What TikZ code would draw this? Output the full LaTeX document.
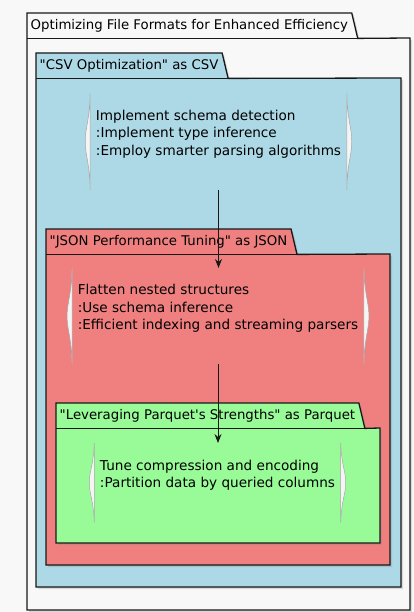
\documentclass[tikz,border=0pt]{standalone}
\usepackage{fontspec}
\setmainfont{DejaVu Sans}[Ligatures=TeXOff]
\usepackage{xcolor}
\usepackage{tikz}
\usetikzlibrary{arrows.meta, backgrounds, shadows}
\definecolor{pagegray}{HTML}{F8F8F8}
\definecolor{csvblue}{HTML}{ADD8E6}
\definecolor{jsonred}{HTML}{F08080}
\definecolor{parquetgreen}{HTML}{98FB98}
\definecolor{edgeblack}{HTML}{181818}
\tikzstyle{pkgtab} = [anchor=north west, inner xsep=3.5pt, inner ysep=0pt, minimum height=25pt, text height=10pt, text depth=3pt, font=\fontsize{13.3}{16}\selectfont]
\tikzstyle{pkgframe} = [draw=edgeblack, line width=1.3pt, drop shadow={shadow xshift=2pt, shadow yshift=-2pt, opacity=0.25}]
\tikzstyle{tabline} = [draw=edgeblack, line width=1.3pt]
\tikzstyle{taskbox} = [anchor=north, align=left, inner xsep=5.5pt, inner ysep=0pt, text depth=34.5pt]
\tikzstyle{bracket} = [draw=gray!70, line width=0.5pt, fill=white!92!gray]
\tikzstyle{arrow} = [draw=edgeblack, line width=0.8pt, -{Stealth[length=9pt, width=7pt, inset=3pt]}]

\begin{document}
\begin{tikzpicture}[x=1pt, y=-1pt, font=\fontsize{13.6}{17.5}\selectfont]
  \useasboundingbox (0,0) rectangle (414,612);

  % package titles
  \node (mainTab) [pkgtab] at (27,13) {Optimizing File Formats for Enhanced Efficiency};
  \node (csvTab) [pkgtab] at (36,53) {"CSV Optimization" as CSV};
  \node (jsonTab) [pkgtab] at (46,229) {"JSON Performance Tuning" as JSON};
  \node (parquetTab) [pkgtab] at (56,403) {"Leveraging Parquet's Strengths" as Parquet};

  % steps inside each package (last line sits on the baseline)
  \node (csvTasks) [taskbox, text height=62pt] at (218.5,93) {Implement schema detection\\:Implement type inference\\:Employ smarter parsing algorithms};
  \node (jsonTasks) [taskbox, text height=61.5pt] at (218,268) {Flatten nested structures\\:Use schema inference\\:Efficient indexing and streaming parsers};
  \node (parquetTasks) [taskbox, text height=44.5pt] at (217.5,443) {Tune compression and encoding\\:Partition data by queried columns};

  % frames go underneath the text
  \begin{scope}[on background layer]
    \fill[pagegray] (0,0) rectangle (414,612);
    \draw[pkgframe, fill=pagegray] (mainTab.north west) -- (mainTab.north east) -- ([xshift=6pt]mainTab.south east) -- (410,38) -- (410,610) -- (27,610) -- cycle;
    \draw[tabline] (mainTab.south west) -- ([xshift=6pt]mainTab.south east);
    \draw[pkgframe, fill=csvblue] (csvTab.north west) -- (csvTab.north east) -- ([xshift=6pt]csvTab.south east) -- (401,78) -- (401,587) -- (36,587) -- cycle;
    \draw[tabline] (csvTab.south west) -- ([xshift=6pt]csvTab.south east);
    \draw[pkgframe, fill=jsonred] (jsonTab.north west) -- (jsonTab.north east) -- ([xshift=6pt]jsonTab.south east) -- (390,254) -- (390,565) -- (46,565) -- cycle;
    \draw[tabline] (jsonTab.south west) -- ([xshift=6pt]jsonTab.south east);
    \draw[pkgframe, fill=parquetgreen] (parquetTab.north west) -- (parquetTab.north east) -- ([xshift=6pt]parquetTab.south east) -- (380,428) -- (380,543) -- (56,543) -- cycle;
    \draw[tabline] (parquetTab.south west) -- ([xshift=6pt]parquetTab.south east);
  \end{scope}

  % curved brackets on both sides of the steps
  \draw[bracket] (csvTasks.north west) .. controls +(-1,30) and +(0,-14) .. ([xshift=-5pt]csvTasks.west) .. controls +(0,14) and +(-1,-30) .. (csvTasks.south west) -- cycle;
  \draw[bracket] (csvTasks.north east) .. controls +(1,30) and +(0,-14) .. ([xshift=5pt]csvTasks.east) .. controls +(0,14) and +(1,-30) .. (csvTasks.south east) -- cycle;
  \draw[bracket] (jsonTasks.north west) .. controls +(-1,30) and +(0,-14) .. ([xshift=-5pt]jsonTasks.west) .. controls +(0,14) and +(-1,-30) .. (jsonTasks.south west) -- cycle;
  \draw[bracket] (jsonTasks.north east) .. controls +(1,30) and +(0,-14) .. ([xshift=5pt]jsonTasks.east) .. controls +(0,14) and +(1,-30) .. (jsonTasks.south east) -- cycle;
  \draw[bracket] (parquetTasks.north west) .. controls +(-1,24) and +(0,-12) .. ([xshift=-5pt]parquetTasks.west) .. controls +(0,12) and +(-1,-24) .. (parquetTasks.south west) -- cycle;
  \draw[bracket] (parquetTasks.north east) .. controls +(1,24) and +(0,-12) .. ([xshift=5pt]parquetTasks.east) .. controls +(0,12) and +(1,-24) .. (parquetTasks.south east) -- cycle;

  \draw[arrow] (csvTasks.south) -- (csvTasks.south |- jsonTasks.north);
  \draw[arrow] (jsonTasks.south) -- (jsonTasks.south |- parquetTasks.north);
\end{tikzpicture}
\end{document}
